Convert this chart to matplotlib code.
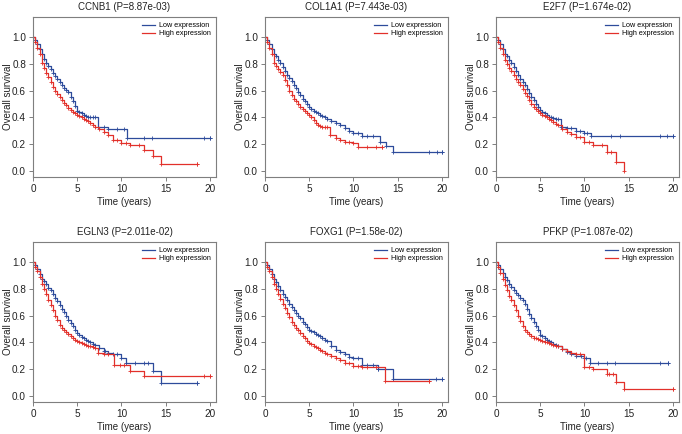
import numpy as np
import matplotlib
matplotlib.use("Agg")
import matplotlib.pyplot as plt

plt.rcParams['font.family'] = ['Liberation Sans', 'DejaVu Sans']

titles = ["CCNB1 (P=8.87e-03)", "COL1A1 (P=7.443e-03)", "E2F7 (P=1.674e-02)",
          "EGLN3 (P=2.011e-02)", "FOXG1 (P=1.58e-02)", "PFKP (P=1.087e-02)"]

# time grid for early part of the curves (years), 0 .. 7 by quarter years
t_early = [0, 0.25, 0.5, 0.75, 1, 1.25, 1.5, 1.75, 2, 2.25, 2.5, 2.75, 3, 3.25, 3.5, 3.75,
           4, 4.25, 4.5, 4.75, 5, 5.25, 5.5, 5.75, 6, 6.25, 6.5, 6.75, 7]

# ---- CCNB1 ----
ccnb1_low_t = t_early + [7.3, 8.5, 10.6, 20]
ccnb1_low_s = [1.0, 0.98, 0.95, 0.91, 0.87, 0.84, 0.81, 0.785, 0.76, 0.735, 0.71, 0.69, 0.665, 0.64,
               0.62, 0.605, 0.59, 0.555, 0.52, 0.485, 0.45, 0.44, 0.43, 0.42, 0.41, 0.405, 0.40, 0.40, 0.40,
               0.33, 0.31, 0.25, 0.25]
ccnb1_low_c = [8.0, 9.5, 10.3, 12.5, 13.5, 19.3, 20]
ccnb1_high_t = t_early + [7.5, 8, 8.5, 9, 10, 11, 12.6, 13.6, 14.5, 18.5]
ccnb1_high_s = [1.0, 0.96, 0.92, 0.87, 0.81, 0.77, 0.73, 0.70, 0.665, 0.63, 0.60, 0.575, 0.55, 0.53,
                0.51, 0.49, 0.47, 0.455, 0.44, 0.43, 0.42, 0.41, 0.40, 0.39, 0.38, 0.37, 0.355, 0.34, 0.33,
                0.31, 0.29, 0.27, 0.23, 0.21, 0.195, 0.16, 0.11, 0.055, 0.055]
ccnb1_high_c = [9.5, 10.5, 12.0, 18.5]

# ---- COL1A1 ----
col1a1_low_t = t_early + [7.5, 8, 8.5, 9, 9.5, 10, 11, 13, 13.7, 14.5, 20]
col1a1_low_s = [1.0, 0.98, 0.95, 0.91, 0.876, 0.855, 0.83, 0.805, 0.78, 0.75, 0.72, 0.695, 0.67, 0.645,
                0.62, 0.59, 0.565, 0.54, 0.52, 0.50, 0.48, 0.465, 0.45, 0.44, 0.43, 0.42, 0.41, 0.40, 0.39,
                0.375, 0.355, 0.34, 0.32, 0.30, 0.28, 0.26, 0.22, 0.19, 0.14, 0.14]
col1a1_low_c = [10.5, 11.5, 12.2, 18.5, 19.4, 20]
col1a1_high_t = t_early + [7.3, 8, 8.5, 9, 10, 10.5, 13.2]
col1a1_high_s = [1.0, 0.96, 0.92, 0.87, 0.81, 0.785, 0.76, 0.74, 0.715, 0.68, 0.64, 0.60, 0.565, 0.54,
                 0.52, 0.50, 0.48, 0.465, 0.45, 0.435, 0.42, 0.40, 0.38, 0.36, 0.34, 0.335, 0.33, 0.33, 0.325,
                 0.27, 0.245, 0.23, 0.22, 0.21, 0.18, 0.18]
col1a1_high_c = [9.5, 11.5, 12.5, 13.2]

# ---- E2F7 ----
e2f7_low_t = t_early + [7.3, 8, 9, 10, 10.8, 20]
e2f7_low_s = [1.0, 0.98, 0.95, 0.91, 0.876, 0.855, 0.83, 0.805, 0.78, 0.75, 0.72, 0.69, 0.665, 0.64,
              0.61, 0.58, 0.555, 0.53, 0.50, 0.475, 0.455, 0.44, 0.43, 0.415, 0.405, 0.40, 0.395, 0.39, 0.39,
              0.33, 0.32, 0.30, 0.285, 0.26, 0.26]
e2f7_low_c = [8.5, 9.5, 10.3, 13.0, 14.0, 18.5, 19.3, 20]
e2f7_high_t = t_early + [7.5, 8, 8.5, 9, 10, 11, 12.6, 13.6, 14.5]
e2f7_high_s = [1.0, 0.96, 0.92, 0.875, 0.83, 0.80, 0.77, 0.745, 0.715, 0.69, 0.665, 0.64, 0.615, 0.585,
               0.56, 0.53, 0.50, 0.48, 0.46, 0.445, 0.43, 0.42, 0.41, 0.40, 0.39, 0.38, 0.365, 0.35, 0.34,
               0.315, 0.29, 0.275, 0.255, 0.22, 0.195, 0.145, 0.07, 0.0]
e2f7_high_c = [9.5, 10.5, 12.0, 13.0]

# ---- EGLN3 ----
egln3_low_t = t_early + [7.5, 8, 8.5, 9, 10, 10.5, 13.6, 14.5, 18.5]
egln3_low_s = [1.0, 0.98, 0.95, 0.91, 0.877, 0.855, 0.835, 0.81, 0.79, 0.76, 0.735, 0.71, 0.68, 0.65,
               0.625, 0.60, 0.57, 0.545, 0.52, 0.495, 0.47, 0.455, 0.44, 0.43, 0.42, 0.41, 0.40, 0.39, 0.38,
               0.355, 0.335, 0.32, 0.31, 0.285, 0.25, 0.19, 0.095, 0.095]
egln3_low_c = [8.2, 9.5, 11.5, 12.5, 13.0, 18.5]
egln3_high_t = t_early + [7.3, 8, 9.2, 11, 12.6, 20]
egln3_high_s = [1.0, 0.965, 0.93, 0.885, 0.84, 0.80, 0.76, 0.72, 0.68, 0.64, 0.60, 0.565, 0.53, 0.51,
                0.49, 0.475, 0.46, 0.445, 0.43, 0.42, 0.41, 0.40, 0.395, 0.385, 0.38, 0.375, 0.37, 0.365, 0.36,
                0.32, 0.31, 0.23, 0.19, 0.15, 0.15]
egln3_high_c = [8.5, 9.8, 10.3, 19.3, 20]

# ---- FOXG1 ----
foxg1_low_t = t_early + [7.5, 8, 8.5, 9, 9.5, 10, 11, 12.8, 14.5, 20]
foxg1_low_s = [1.0, 0.98, 0.95, 0.91, 0.877, 0.85, 0.82, 0.79, 0.765, 0.74, 0.715, 0.69, 0.667, 0.645,
               0.62, 0.60, 0.58, 0.555, 0.535, 0.515, 0.494, 0.485, 0.475, 0.465, 0.457, 0.445, 0.43, 0.42,
               0.407, 0.37, 0.346, 0.33, 0.31, 0.29, 0.284, 0.235, 0.20, 0.13, 0.13]
foxg1_low_c = [10.5, 11.5, 12.2, 12.8, 19.3, 20]
foxg1_high_t = t_early + [7.5, 8, 8.5, 9, 10, 11, 13.6, 18.5]
foxg1_high_s = [1.0, 0.965, 0.93, 0.885, 0.84, 0.80, 0.76, 0.725, 0.69, 0.655, 0.62, 0.59, 0.556, 0.53,
                0.51, 0.49, 0.47, 0.45, 0.43, 0.41, 0.395, 0.385, 0.375, 0.365, 0.358, 0.345, 0.335, 0.32,
                0.31, 0.295, 0.284, 0.265, 0.247, 0.225, 0.22, 0.11, 0.11]
foxg1_high_c = [9.5, 10.5, 11.5, 12.5, 18.5]

# ---- PFKP ----
pfkp_low_t = t_early + [7.5, 8, 8.5, 9, 10, 10.6, 19.5]
pfkp_low_s = [1.0, 0.98, 0.95, 0.92, 0.89, 0.865, 0.84, 0.815, 0.79, 0.77, 0.755, 0.735, 0.716, 0.685,
              0.65, 0.615, 0.58, 0.55, 0.52, 0.49, 0.457, 0.445, 0.43, 0.42, 0.407, 0.40, 0.39, 0.38, 0.37,
              0.35, 0.33, 0.315, 0.30, 0.285, 0.25, 0.25]
pfkp_low_c = [9.6, 10.2, 11.5, 12.5, 13.5, 18.5, 19.5]
pfkp_high_t = t_early + [7.5, 8, 8.5, 9, 10, 11, 12.5, 13.6, 14.5, 20]
pfkp_high_s = [1.0, 0.96, 0.92, 0.875, 0.827, 0.79, 0.75, 0.715, 0.68, 0.64, 0.60, 0.56, 0.52, 0.495,
               0.475, 0.46, 0.445, 0.435, 0.43, 0.425, 0.42, 0.41, 0.405, 0.40, 0.395, 0.39, 0.38, 0.375, 0.37,
               0.35, 0.333, 0.32, 0.31, 0.22, 0.20, 0.165, 0.105, 0.055, 0.055]
pfkp_high_c = [9.5, 10.5, 12.8, 13.2, 20]

panels = [
    (ccnb1_low_t, ccnb1_low_s, ccnb1_low_c, ccnb1_high_t, ccnb1_high_s, ccnb1_high_c),
    (col1a1_low_t, col1a1_low_s, col1a1_low_c, col1a1_high_t, col1a1_high_s, col1a1_high_c),
    (e2f7_low_t, e2f7_low_s, e2f7_low_c, e2f7_high_t, e2f7_high_s, e2f7_high_c),
    (egln3_low_t, egln3_low_s, egln3_low_c, egln3_high_t, egln3_high_s, egln3_high_c),
    (foxg1_low_t, foxg1_low_s, foxg1_low_c, foxg1_high_t, foxg1_high_s, foxg1_high_c),
    (pfkp_low_t, pfkp_low_s, pfkp_low_c, pfkp_high_t, pfkp_high_s, pfkp_high_c),
]

BLUE = '#2d4b9b'
RED = '#e2302a'
GREY = '#7f7f7f'
TXT = '#222222'

W, H = 682, 434
fig = plt.figure(figsize=(W / 100, H / 100), dpi=100)

lefts = [33, 265, 496]
tops = [17, 242]
aw, ah = 183, 160


def step_val(ts, ss, tq):
    ts = np.asarray(ts)
    ss = np.asarray(ss)
    idx = np.searchsorted(ts, tq, side='right') - 1
    return ss[np.clip(idx, 0, len(ss) - 1)]


for i, (lt, ls, lc, ht, hs, hc) in enumerate(panels):
    r, c = divmod(i, 3)
    ax = fig.add_axes([lefts[c] / W, 1 - (tops[r] + ah) / H, aw / W, ah / H])
    for ts, ss, cs, col, lab in [(lt, ls, lc, BLUE, 'Low expression'),
                                 (ht, hs, hc, RED, 'High expression')]:
        ax.plot(ts, ss, drawstyle='steps-post', color=col, lw=0.9, label=lab)
        ax.plot(ts[1:], ss[1:], ls='none', marker='+', ms=3.5, mew=0.6, color=col)
        ax.plot(cs, step_val(ts, ss, cs), ls='none', marker='+', ms=3.5, mew=0.6, color=col)
    ax.set_xlim(0, 20.7)
    ax.set_ylim(-0.045, 1.15)
    ax.set_xticks([0, 5, 10, 15, 20])
    ax.set_yticks([0.0, 0.2, 0.4, 0.6, 0.8, 1.0])
    ax.set_yticklabels(['0.0', '0.2', '0.4', '0.6', '0.8', '1.0'])
    for s in ax.spines.values():
        s.set_color(GREY)
        s.set_linewidth(0.8)
    ax.tick_params(length=3, width=0.7, color=GREY, labelsize=7.2, pad=2, labelcolor=TXT)
    ax.set_xlabel('Time (years)', fontsize=7, labelpad=2, color=TXT)
    ax.set_ylabel('Overall survival', fontsize=7, color=TXT, va='center')
    ax.yaxis.set_label_coords(-0.135, 0.5)
    ax.set_title(titles[i], fontsize=7, pad=5, color=TXT)
    ax.legend(loc='upper right', frameon=False, fontsize=5.2, handlelength=1.9,
              handletextpad=0.5, labelspacing=0.15, borderaxespad=0.3)

fig.savefig('out.png', dpi=100)
